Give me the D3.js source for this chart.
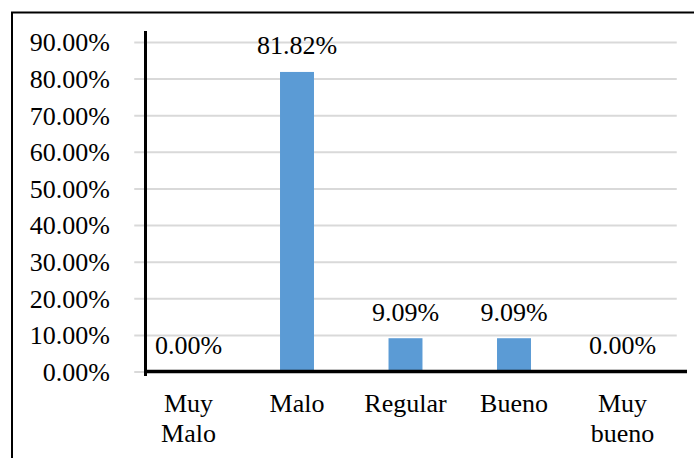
<!DOCTYPE html>
<html>
<head>
<meta charset="utf-8">
<script src="https://cdn.jsdelivr.net/npm/d3@7"></script>
<style>
html,body{margin:0;padding:0;background:#fff;}
svg{display:block;}
text{font-family:"Liberation Serif","Times New Roman",serif;font-size:26px;fill:#000;}
</style>
</head>
<body>
<svg id="chart" width="694" height="458"></svg>
<script>
const categories = [["Muy","Malo"],["Malo"],["Regular"],["Bueno"],["Muy","bueno"]];
const values = [0.00, 81.82, 9.09, 9.09, 0.00];
const yTicks = [0,10,20,30,40,50,60,70,80,90];

const svg = d3.select("#chart");
const W = 694, H = 458;

// outer frame (left and top visible)
svg.append("line").attr("x1",12).attr("x2",12).attr("y1",12.5).attr("y2",H).attr("stroke","#000").attr("stroke-width",2);
svg.append("line").attr("x1",11).attr("x2",W).attr("y1",12.5).attr("y2",12.5).attr("stroke","#000").attr("stroke-width",2);

const plotL = 134.25, plotR = 676.75;
const keys = categories.map(c => c.join(" "));
const x = d3.scaleBand().domain(keys).range([plotL, plotR]).paddingInner(0.687).paddingOuter(0.3435);
const y = d3.scaleLinear().domain([0, 90]).range([371.5, 42]);

// gridlines
const grid = svg.append("g").attr("transform", `translate(${plotL},0)`)
  .call(d3.axisRight(y).tickValues(yTicks).tickSize(plotR - plotL).tickFormat(""));
grid.select(".domain").remove();
grid.selectAll(".tick line").attr("stroke","#d9d9d9").attr("stroke-width",2);

// y tick labels
const yl = svg.append("g").attr("transform","translate(110,0)")
  .call(d3.axisLeft(y).tickValues(yTicks).tickSize(0).tickPadding(0).tickFormat(d => d3.format(".2f")(d) + "%"));
yl.select(".domain").remove();
yl.selectAll("text").attr("font-family",null).attr("font-size",null)
  .attr("dy",null).attr("dominant-baseline",null)
  .attr("y", 8.8).attr("text-anchor","end");

// bars
svg.append("g").selectAll("rect").data(values).join("rect")
  .attr("x",(d,i)=>x(keys[i]))
  .attr("width",x.bandwidth())
  .attr("y",d=>y(d))
  .attr("height",d=>y(0)-y(d))
  .attr("fill","#5b9bd5");

// data labels
svg.append("g").selectAll("text").data(values).join("text")
  .attr("x",(d,i)=>x(keys[i]) + x.bandwidth()/2)
  .attr("y",d=>y(d) - 17.7)
  .attr("text-anchor","middle")
  .text(d=>d3.format(".2f")(d) + "%");

// axes lines
svg.append("line").attr("x1",145.5).attr("x2",145.5).attr("y1",31).attr("y2",376).attr("stroke","#000").attr("stroke-width",3);
svg.append("line").attr("x1",144).attr("x2",687).attr("y1",371.5).attr("y2",371.5).attr("stroke","#000").attr("stroke-width",3.5);

// category labels
const cl = svg.append("g").selectAll("text").data(categories).join("text")
  .attr("text-anchor","middle")
  .attr("x",(d,i)=>x(keys[i]) + x.bandwidth()/2)
  .attr("y",412);
cl.each(function(d,i){
  const t = d3.select(this);
  d.forEach((line,j)=>{
    t.append("tspan").attr("x", x(keys[i]) + x.bandwidth()/2).attr("dy", j===0?0:30).text(line);
  });
});
</script>
</body>
</html>
